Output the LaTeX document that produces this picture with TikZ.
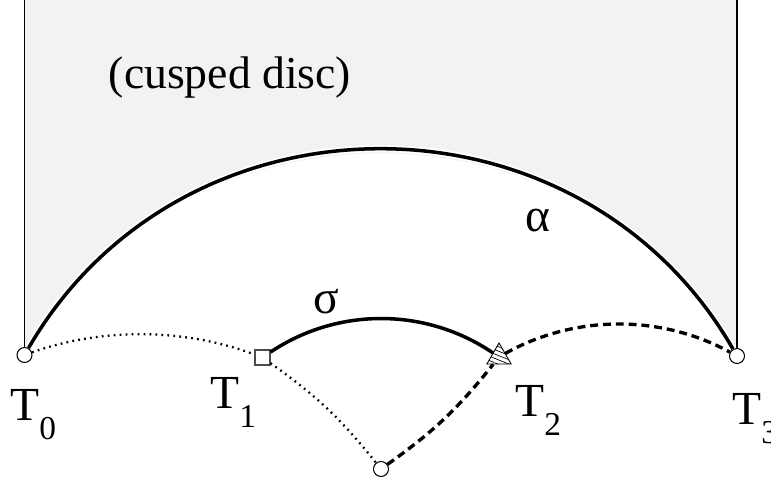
\documentclass[tikz,border=0pt]{standalone}
\usepackage{fontspec}
\setmainfont{Liberation Serif}
\usepackage{tikz}
\usetikzlibrary{shapes.geometric,patterns.meta,backgrounds}
\newcommand{\Tlab}[1]{T\raisebox{-0.42em}{\fontsize{19}{20}\selectfont #1}}

\begin{document}
\begin{tikzpicture}[x=0.02cm, y=0.02cm,
  cusp/.style={circle, draw, fill=white, line width=0.6pt, inner sep=0pt, minimum size=0.3cm},
  sqr/.style={rectangle, draw=gray!60!black, fill=white, line width=0.6pt, inner sep=0pt, minimum size=0.3cm},
  tri/.style={regular polygon, regular polygon sides=3, draw, line width=0.5pt, inner sep=0pt,
    minimum size=0.56cm, pattern={Lines[angle=-22, distance=2.3pt, line width=0.4pt]}},
  geo/.style={line width=2pt},
  dotarc/.style={line width=1.3pt, dash pattern=on 1pt off 2.4pt},
  dasharc/.style={line width=1.9pt, dash pattern=on 4.5pt off 2.8pt},
  lbl/.style={font=\fontsize{27}{30}\selectfont, inner sep=0pt}]
  \useasboundingbox (0,0) rectangle (771,481);
  \coordinate (top) at (0,481);
  % vertices (pixel units, y up)
  \node[cusp] (T0) at (24.5,126) {};
  \node[sqr] (T1) at (262.5,123.5) {};
  \node[tri] (T2) at (499,124) {};
  \node[cusp] (T3) at (737,125) {};
  \node[cusp] (B) at (381,12) {};
  % cusped disc region
  \begin{scope}[on background layer]
    \fill[gray!10] (T0.center) -- (T0.center |- top) -- (T3.center |- top) -- (T3.center)
      to[bend right=60, looseness=1.12] (T0.center) -- cycle;
  \end{scope}
  \draw[line width=0.8pt] (T0) -- (T0 |- top);
  \draw[line width=0.8pt] (T3) -- (T3 |- top);
  % geodesics
  \draw[geo, preaction={draw=white, line width=4pt}] (T0) to[bend left=60, looseness=1.12] (T3);
  \draw[geo] (T1) to[bend left=34, looseness=0.93] (T2);
  \draw[dotarc] (T0) to[bend left=20, looseness=0.86] (T1);
  \draw[dotarc] (T1) to[bend left=8] (B);
  \draw[dasharc] (B) to[bend right=8] (T2);
  \draw[dasharc] (T2) to[bend left=29, looseness=0.9] (T3);
  % labels
  \node[lbl, anchor=base west] (lT0) at (10,61) {\Tlab{0}};
  \node[lbl, anchor=base west] (lT1) at (210,73) {\Tlab{1}};
  \node[lbl, anchor=base west] (lT2) at (515,65) {\Tlab{2}};
  \node[lbl, anchor=base west] (lT3) at (732,57) {\Tlab{3}};
  \node[lbl] (alpha) at (538,260) {α};
  \node[lbl] (sigma) at (326,179) {σ};
  \node[lbl, font=\fontsize{26}{30}\selectfont] (disc) at (230,403) {(cusped disc)};
\end{tikzpicture}
\end{document}
